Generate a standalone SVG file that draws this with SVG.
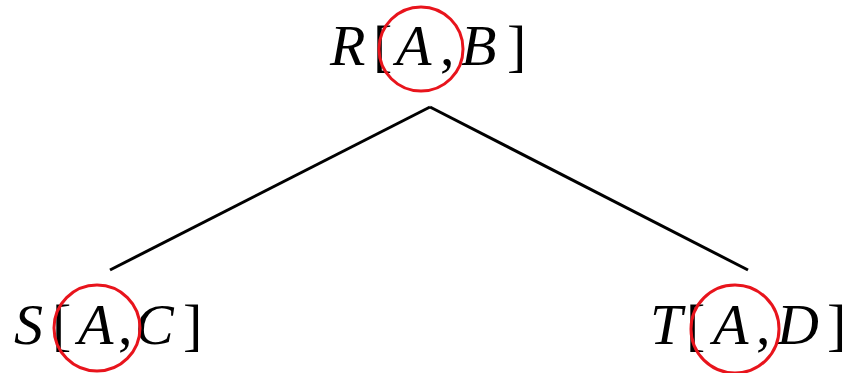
<svg xmlns="http://www.w3.org/2000/svg" width="848" height="373" viewBox="0 0 848 373">
<style>
text{font-family:"Liberation Serif","Times New Roman",serif;font-size:58px;fill:#000}
.i{font-style:italic}
.c{fill:none;stroke:#e8141c;stroke-width:3}
.e{stroke:#000;stroke-width:3;fill:none}
</style>
<rect width="848" height="373" fill="#fff"/>
<g id="connectors">
<line class="e" x1="430" y1="107" x2="110" y2="270"/>
<line class="e" x1="430" y1="107" x2="748" y2="270"/>
</g>
<g id="R">
<text y="65"><tspan class="i" x="330">R</tspan><tspan x="373">[</tspan><tspan class="i" x="396">A</tspan><tspan x="440">,</tspan><tspan class="i" x="461">B</tspan><tspan x="507">]</tspan></text>
<circle class="c" cx="421" cy="49" r="42"/>
</g>
<g id="S">
<text y="344"><tspan class="i" x="14">S</tspan><tspan x="52">[</tspan><tspan class="i" x="78">A</tspan><tspan x="118">,</tspan><tspan class="i" x="135">C</tspan><tspan x="183">]</tspan></text>
<circle class="c" cx="97" cy="328" r="43"/>
</g>
<g id="T">
<text y="344"><tspan class="i" x="650">T</tspan><tspan x="686">[</tspan><tspan class="i" x="713">A</tspan><tspan x="756">,</tspan><tspan class="i" x="777">D</tspan><tspan x="827">]</tspan></text>
<circle class="c" cx="735" cy="329" r="44"/>
</g>
</svg>
